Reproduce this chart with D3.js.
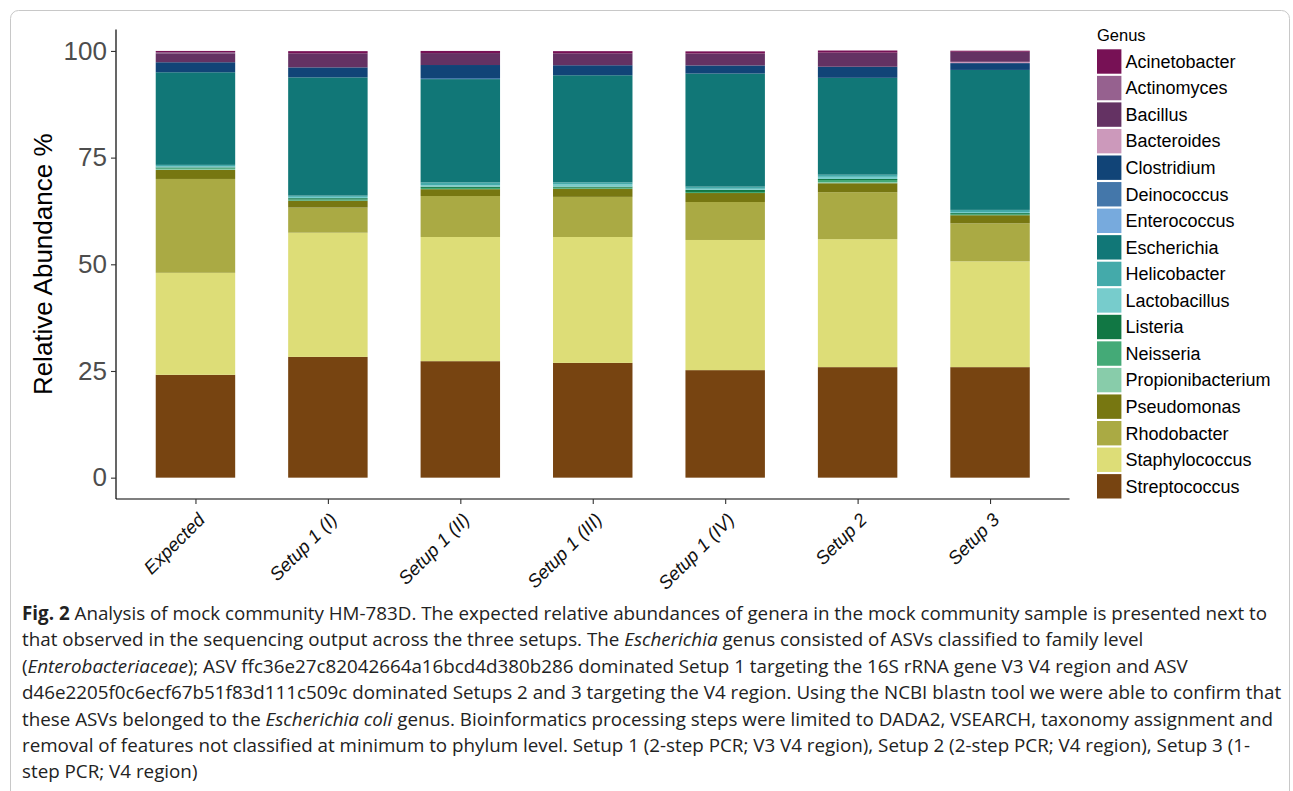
<!DOCTYPE html>
<html>
<head>
<meta charset="utf-8">
<script src="https://cdn.jsdelivr.net/npm/d3@7"></script>
<style>
  html, body { margin: 0; padding: 0; background: #fff; }
  svg { display: block; }
</style>
</head>
<body>
<svg id="fig" width="1293" height="791"></svg>
<script>
// Samples along the x axis
const samples = ["Expected", "Setup 1 (I)", "Setup 1 (II)", "Setup 1 (III)", "Setup 1 (IV)", "Setup 2", "Setup 3"];

// Genera in legend order (first one is stacked on top)
const genera = ["Acinetobacter", "Actinomyces", "Bacillus", "Bacteroides", "Clostridium", "Deinococcus",
  "Enterococcus", "Escherichia", "Helicobacter", "Lactobacillus", "Listeria", "Neisseria",
  "Propionibacterium", "Pseudomonas", "Rhodobacter", "Staphylococcus", "Streptococcus"];

const genusColors = ["#771155", "#96618F", "#643263", "#CC99BB", "#114477", "#4477AA",
  "#77AADD", "#117777", "#44AAAA", "#77CCCC", "#117744", "#44AA77",
  "#88CCAA", "#777711", "#AAAA44", "#DDDD77", "#774411"];

// Relative abundance (%) per genus, one value per sample
const acinetobacter     = [0.25, 0.5, 0.5, 0.5, 0.5, 0.5, 0.25];
const actinomyces       = [0.3, 0, 0, 0, 0, 0, 0];
const bacillus          = [2.1, 3.3, 2.8, 2.8, 2.8, 3.3, 2.35];
const bacteroides       = [0, 0, 0, 0, 0, 0, 0.3];
const clostridium       = [2.35, 2.35, 3.05, 2.35, 1.9, 2.6, 1.6];
const deinococcus       = [0, 0, 0.25, 0, 0, 0, 0];
const enterococcus      = [0, 0, 0, 0, 0, 0, 0];
const escherichia       = [21.7, 27.7, 24.2, 25.1, 26.5, 22.7, 32.8];
const helicobacter      = [0.4, 0.3, 0.7, 0.5, 0.5, 0.5, 0.5];
const lactobacillus     = [0.2, 0.3, 0.3, 0.5, 0.25, 0.5, 0.25];
const listeria          = [0.2, 0.3, 0.3, 0.25, 0.5, 0.25, 0.25];
const neisseria         = [0.2, 0.3, 0.3, 0.25, 0.25, 0.5, 0.25];
const propionibacterium = [0.2, 0, 0, 0, 0, 0.25, 0];
const pseudomonas       = [2.1, 1.6, 1.6, 1.9, 2.1, 2.1, 1.9];
const rhodobacter       = [22.0, 5.9, 9.6, 9.4, 8.9, 11.0, 8.9];
const staphylococcus    = [23.9, 29.1, 29.1, 29.5, 30.5, 30.0, 24.8];
const streptococcus     = [24.1, 28.3, 27.3, 26.9, 25.2, 25.9, 25.9];

const yTicks = [0, 25, 50, 75, 100];

const abundance = [acinetobacter, actinomyces, bacillus, bacteroides, clostridium, deinococcus,
  enterococcus, escherichia, helicobacter, lactobacillus, listeria, neisseria,
  propionibacterium, pseudomonas, rhodobacter, staphylococcus, streptococcus];

// Caption lines
const captionLines = [
  [["Fig. 2", "b"], [" Analysis of mock community HM-783D. The expected relative abundances of genera in the mock community sample is presented next to", ""]],
  [["that observed in the sequencing output across the three setups. The ", ""], ["Escherichia", "i"], [" genus consisted of ASVs classified to family level", ""]],
  [["(", ""], ["Enterobacteriaceae", "i"], ["); ASV ffc36e27c82042664a16bcd4d380b286 dominated Setup 1 targeting the 16S rRNA gene V3 V4 region and ASV", ""]],
  [["d46e2205f0c6ecf67b51f83d111c509c dominated Setups 2 and 3 targeting the V4 region. Using the NCBI blastn tool we were able to confirm that", ""]],
  [["these ASVs belonged to the ", ""], ["Escherichia coli", "i"], [" genus. Bioinformatics processing steps were limited to DADA2, VSEARCH, taxonomy assignment and", ""]],
  [["removal of features not classified at minimum to phylum level. Setup 1 (2-step PCR; V3 V4 region), Setup 2 (2-step PCR; V4 region), Setup 3 (1-", ""]],
  [["step PCR; V4 region)", ""]]
];

const svg = d3.select("#fig");
const sans = "'Liberation Sans', Arial, Helvetica, sans-serif";

// Figure frame
svg.append("rect")
  .attr("x", 10.5).attr("y", 10.5)
  .attr("width", 1279).attr("height", 800)
  .attr("rx", 8).attr("ry", 8)
  .attr("fill", "none").attr("stroke", "#c8c8c8").attr("stroke-width", 1);

// Panel geometry
const panel = { left: 116, right: 1069.5, top: 29.6, bottom: 499 };

const x = d3.scalePoint()
  .domain(samples)
  .range([panel.left, panel.right])
  .padding(0.6);
const barWidth = x.step() * 0.6;

const y = d3.scaleLinear()
  .domain([-5, 105])
  .range([panel.bottom, panel.top]);

// Build a stack: bottom layer is the last genus
const rows = samples.map((s, i) => {
  const r = { sample: s };
  genera.forEach((g, k) => { r[g] = abundance[k][i]; });
  return r;
});
const stack = d3.stack().keys(genera.slice().reverse());
const layers = stack(rows);
const colorOf = d3.scaleOrdinal().domain(genera).range(genusColors);

const gBars = svg.append("g");
layers.forEach(layer => {
  gBars.append("g")
    .attr("fill", colorOf(layer.key))
    .selectAll("rect")
    .data(layer.filter(d => d[1] - d[0] > 0))
    .join("rect")
    .attr("x", d => x(d.data.sample) - barWidth / 2)
    .attr("width", barWidth)
    .attr("y", d => y(d[1]))
    .attr("height", d => y(d[0]) - y(d[1]));
});

// Y axis
const yAxis = d3.axisLeft(y).tickValues(yTicks).tickSize(5).tickPadding(4);
const gy = svg.append("g").attr("transform", `translate(${panel.left},0)`).call(yAxis);
gy.attr("font-family", sans);
gy.select(".domain").attr("stroke", "#000").attr("stroke-width", 1.2)
  .attr("d", `M0,${panel.top}V${panel.bottom}`);
gy.selectAll(".tick line").attr("stroke", "#333").attr("stroke-width", 1.1);
gy.selectAll(".tick text")
  .attr("fill", "#4d4d4d")
  .style("font-size", "26px");

// X axis
const xAxis = d3.axisBottom(x).tickSize(5).tickPadding(4);
const gx = svg.append("g").attr("transform", `translate(0,${panel.bottom})`).call(xAxis);
gx.attr("font-family", sans);
gx.select(".domain").attr("stroke", "#000").attr("stroke-width", 1.2)
  .attr("d", `M${panel.left},0H${panel.right}`);
gx.selectAll(".tick line").attr("stroke", "#333").attr("stroke-width", 1.1);
gx.selectAll(".tick text")
  .attr("fill", "#111")
  .style("font-size", "18.5px")
  .style("font-style", "italic")
  .attr("text-anchor", "end")
  .attr("y", 0).attr("dy", 0)
  .attr("transform", "translate(10,22) rotate(-45)");

// Y axis title
svg.append("text")
  .attr("transform", `translate(52,${(panel.top + panel.bottom) / 2}) rotate(-90)`)
  .attr("text-anchor", "middle")
  .attr("fill", "#000")
  .attr("font-family", sans)
  .style("font-size", "26px")
  .text("Relative Abundance %");

// Legend
const legend = svg.append("g").attr("transform", "translate(1097,0)").attr("font-family", sans);
legend.append("text")
  .attr("x", 0).attr("y", 41)
  .attr("fill", "#000")
  .style("font-size", "16.5px")
  .text("Genus");
const keyStep = 26.55, keyTop = 49.3, keySize = 24.4;
const items = legend.selectAll("g.item").data(genera).join("g")
  .attr("class", "item")
  .attr("transform", (d, i) => `translate(0,${keyTop + i * keyStep})`);
items.append("rect")
  .attr("width", keySize).attr("height", keySize)
  .attr("fill", d => colorOf(d));
items.append("text")
  .attr("x", 28.5).attr("y", keySize / 2).attr("dy", "0.35em")
  .attr("fill", "#000")
  .style("font-size", "18px")
  .text(d => d);

// Caption
const cap = svg.append("g")
  .attr("font-family", "'Open Sans', 'Noto Sans', sans-serif")
  .style("font-size", "18.8px")
  .attr("fill", "#222");
captionLines.forEach((line, i) => {
  const t = cap.append("text").attr("x", 22).attr("y", 620 + i * 26.4);
  line.forEach(([str, style]) => {
    const ts = t.append("tspan").text(str);
    if (style === "b") ts.style("font-weight", "bold");
    if (style === "i") ts.style("font-style", "italic");
  });
});
</script>
</body>
</html>
